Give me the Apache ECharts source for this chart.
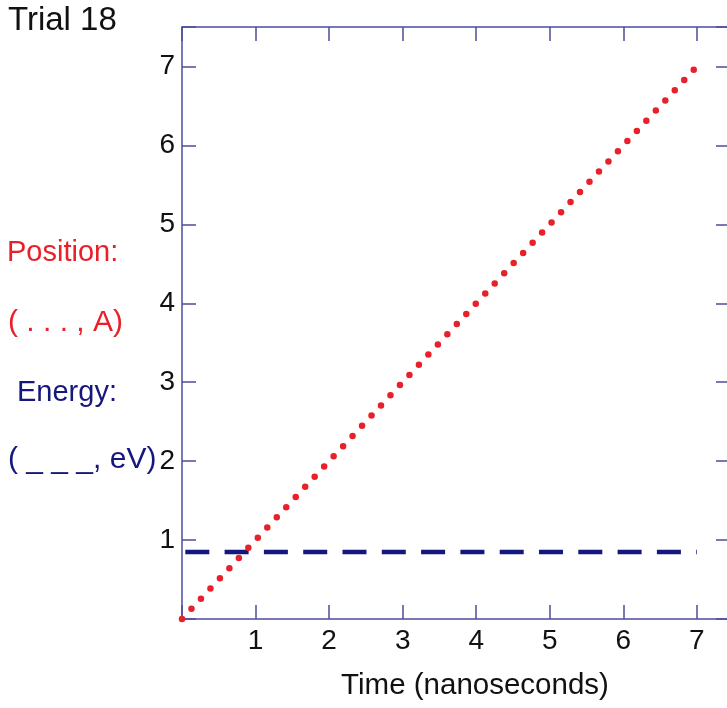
<!DOCTYPE html>
<html>
<head>
<meta charset="utf-8">
<script src="https://cdn.jsdelivr.net/npm/echarts@6/dist/echarts.min.js"></script>
<style>
  html, body { margin: 0; padding: 0; background: #fff; }
  #chart { width: 727px; height: 708px; }
</style>
</head>
<body>
<div id="chart"></div>
<script>
// data
var xTicks = [1, 2, 3, 4, 5, 6, 7];
var yTicks = [1, 2, 3, 4, 5, 6, 7];
var positionData = [[0, 0], [7, 7]];       // Angstrom, dotted red
var energyData = [[0, 0.85], [7, 0.85]];   // eV, dashed navy

var FONT = '"Liberation Sans", Arial, sans-serif';
var AXIS_COLOR = '#4c4c9c';
var RED = '#e8202a';
var NAVY = '#16167f';

var chart = echarts.init(document.getElementById('chart'));

function tickLabel(list) {
    return function (v) {
        return list.indexOf(v) >= 0 ? String(v) : '';
    };
}

var axisBase = {
    type: 'value',
    interval: 1,
    splitLine: { show: false },
    axisLine: { show: true, onZero: false, lineStyle: { color: AXIS_COLOR, width: 1.5 } },
    axisTick: { show: true, inside: true, length: 14, lineStyle: { color: AXIS_COLOR, width: 1.5 } }
};

var option = {
    animation: false,
    backgroundColor: '#fff',
    grid: { left: 182, top: 27, width: 548, bottom: 89, containLabel: false, outerBoundsMode: 'none' },
    xAxis: [
        Object.assign({}, axisBase, {
            position: 'bottom',
            min: 0, max: 7.45,
            name: 'Time (nanoseconds)',
            nameLocation: 'middle',
            nameGap: 52,
            nameTextStyle: { color: '#111', fontSize: 29.5, fontFamily: FONT, padding: [0, 0, 0, 38] },
            axisLabel: { color: '#111', fontSize: 28, fontFamily: FONT, margin: 8, formatter: tickLabel(xTicks) }
        }),
        Object.assign({}, axisBase, {
            position: 'top',
            min: 0, max: 7.45,
            axisLabel: { show: false }
        })
    ],
    yAxis: [
        Object.assign({}, axisBase, {
            position: 'left',
            min: 0, max: 7.5,
            axisLabel: { color: '#111', fontSize: 28, fontFamily: FONT, margin: 7, formatter: tickLabel(yTicks) }
        }),
        Object.assign({}, axisBase, {
            position: 'right',
            min: 0, max: 7.5,
            axisLabel: { show: false }
        })
    ],
    series: [
        {
            name: 'Energy',
            type: 'line',
            data: energyData,
            symbol: 'none',
            clip: false,
            lineStyle: { color: NAVY, width: 4.5, type: [24, 15.3], dashOffset: 36 }
        },
        {
            name: 'Position',
            type: 'line',
            data: positionData,
            symbol: 'none',
            clip: false,
            lineStyle: { color: RED, width: 6.5, type: [0, 13.9], cap: 'round' }
        }
    ],
    graphic: [
        { type: 'text', x: 8, y: 21, style: { text: 'Trial 18', fill: '#111', fontSize: 33, fontFamily: FONT, verticalAlign: 'middle' } },
        { type: 'text', x: 7, y: 253, style: { text: 'Position:', fill: RED, fontSize: 29, fontFamily: FONT, verticalAlign: 'middle' } },
        { type: 'text', x: 8, y: 323, style: { text: '( . . . , A)', fill: RED, fontSize: 30, fontFamily: FONT, verticalAlign: 'middle' } },
        { type: 'text', x: 17, y: 393, style: { text: 'Energy:', fill: NAVY, fontSize: 29, fontFamily: FONT, verticalAlign: 'middle' } },
        { type: 'text', x: 8, y: 460, style: { text: '( _ _ _, eV)', fill: NAVY, fontSize: 30, fontFamily: FONT, verticalAlign: 'middle' } }
    ]
};

chart.setOption(option);
</script>
</body>
</html>
